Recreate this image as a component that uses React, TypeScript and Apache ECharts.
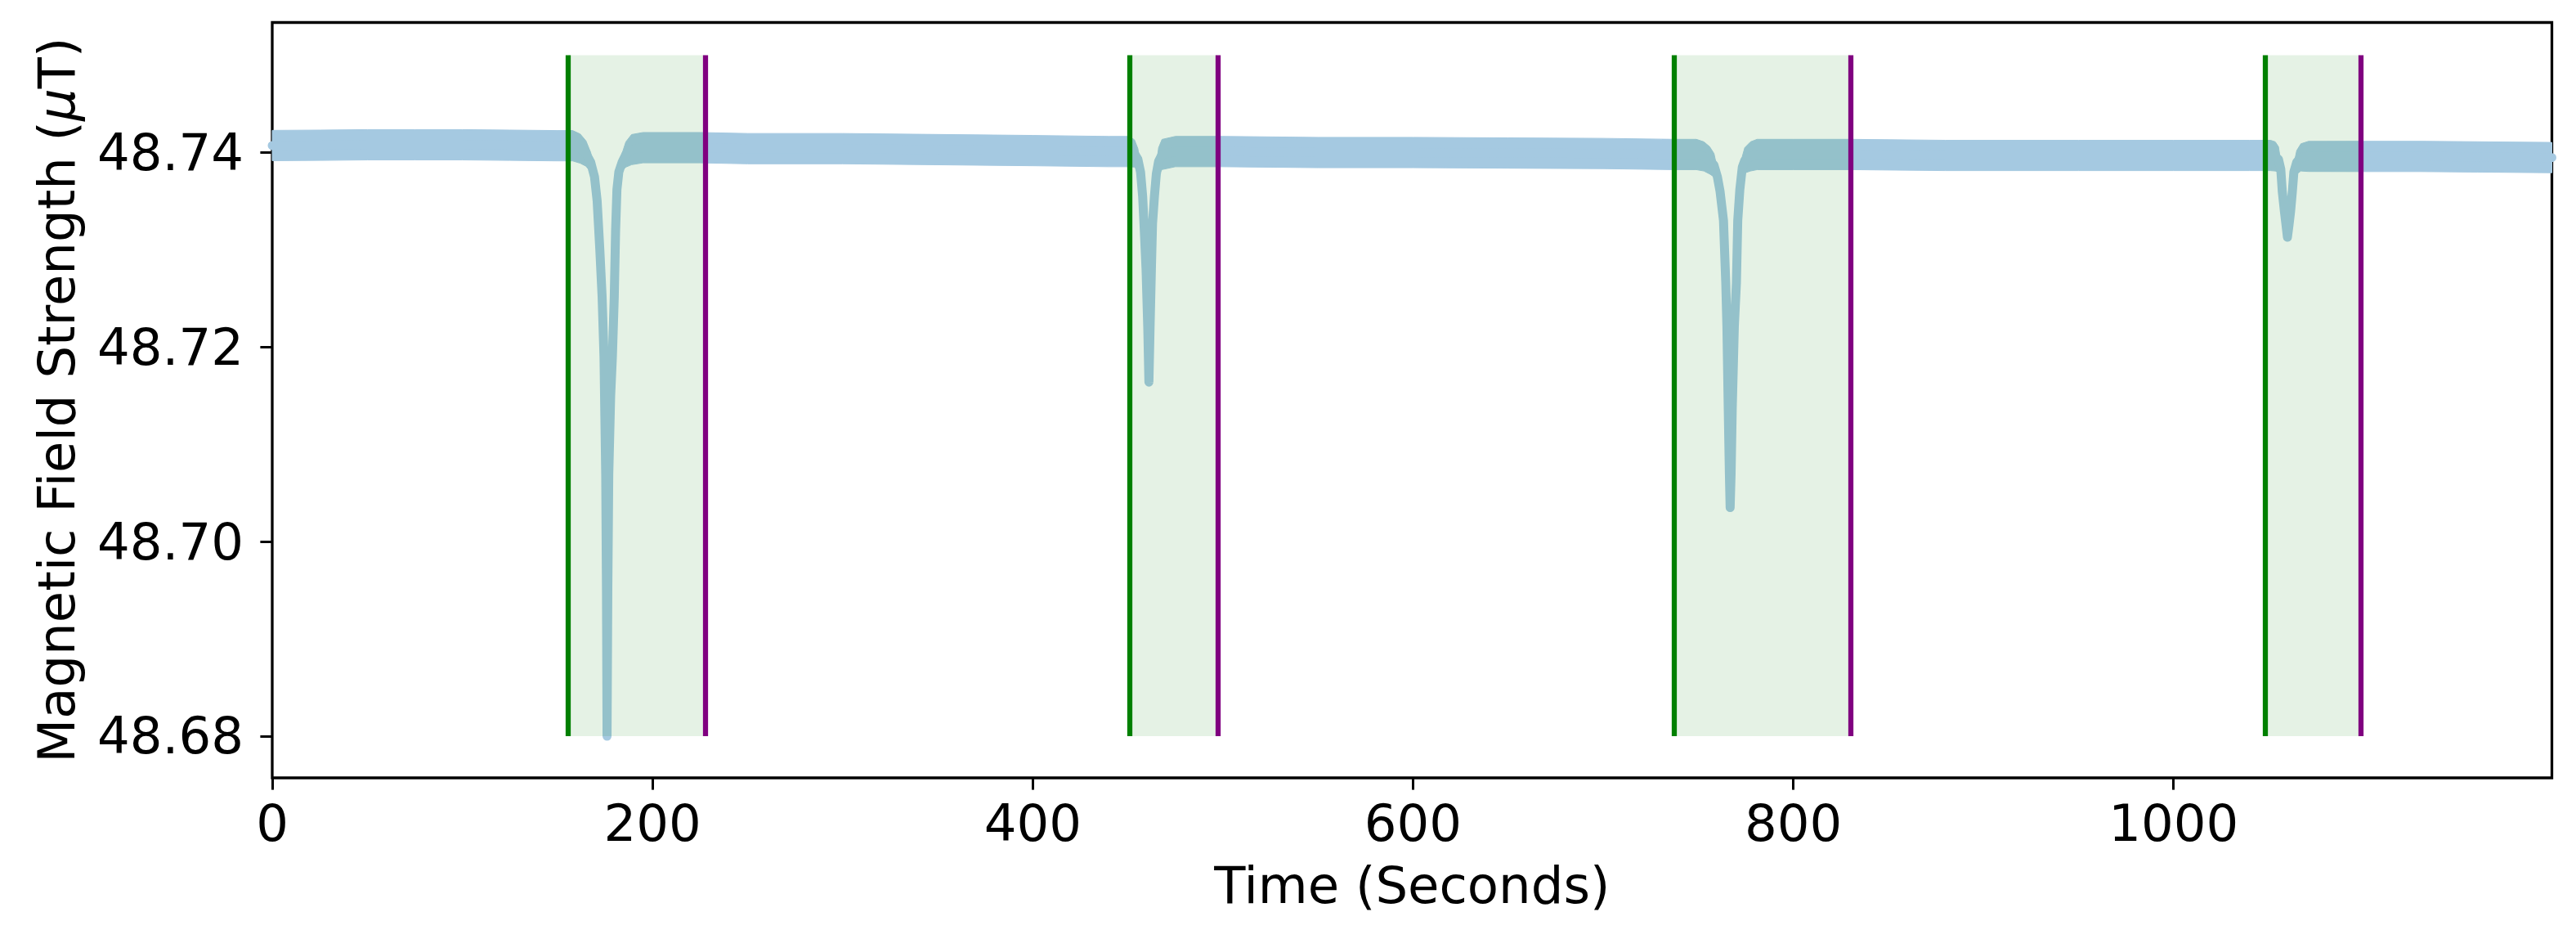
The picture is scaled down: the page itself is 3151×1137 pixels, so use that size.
import React, { useEffect, useRef } from "react";
import * as echarts from "echarts";

// ---- data ----
// time (s) of each sampled point of the magnetometer trace
const timeSec = [
  0, 25, 50, 75, 100, 125, 150, 158,
  162, 165, 167.5, 169.5, 170.9, 172.3, 173.5, 174.5, 175.4, 175.8, 176.1, 176.5, 177.0, 178.0, 178.9, 179.9, 180.6, 181.3, 182.3, 184, 186, 189, 195,
  225, 250, 300, 350, 400, 440, 451,
  453.5, 455.3, 456.7, 457.8, 458.5, 459.6, 460.5, 461.1, 461.7, 462.4, 463.0, 464.0, 465.0, 466.2, 468, 475,
  500, 550, 600, 650, 700, 737, 749,
  753, 756, 758.3, 760.1, 761.5, 763.3, 764.5, 765.1, 765.8, 766.4, 766.8, 767.3, 767.9, 769.0, 770.1, 770.8, 771.9, 773.2, 774.5, 777.5, 781,
  800, 830, 880, 950, 1000, 1040, 1051,
  1053.5, 1055.2, 1056.4, 1057.2, 1058.3, 1059.2, 1059.9, 1060.7, 1061.6, 1062.5, 1063.3, 1064.8, 1067, 1071,
  1100, 1130, 1160, 1199,
];

// mean field strength (µT) at each sampled time
const fieldCenter = [
  48.74072, 48.74075, 48.7408, 48.7408, 48.7408, 48.74075, 48.7407, 48.7407,
  48.7404, 48.7399, 48.739, 48.7375, 48.735, 48.73, 48.7252, 48.719, 48.7069, 48.695, 48.68, 48.695, 48.7069, 48.715, 48.719, 48.7252, 48.732, 48.7362, 48.738, 48.739, 48.7398, 48.7403, 48.7405,
  48.7405, 48.7404, 48.7404, 48.7403, 48.7402, 48.7401, 48.7401,
  48.7399, 48.7393, 48.738, 48.7355, 48.7327, 48.728, 48.722, 48.7164, 48.722, 48.728, 48.7327, 48.7355, 48.7378, 48.7391, 48.7398, 48.7401,
  48.7401, 48.74, 48.74, 48.73995, 48.7399, 48.7398, 48.7398,
  48.7396, 48.7392, 48.7387, 48.7375, 48.736, 48.733, 48.7266, 48.7221, 48.7137, 48.707, 48.7035, 48.707, 48.7137, 48.7221, 48.7266, 48.733, 48.7362, 48.7385, 48.7392, 48.7396, 48.7398,
  48.7398, 48.7398, 48.7397, 48.7397, 48.7397, 48.7397, 48.7397,
  48.7396, 48.7393, 48.7383, 48.736, 48.734, 48.7325, 48.7313, 48.7325, 48.734, 48.736, 48.738, 48.739, 48.7395, 48.7396,
  48.7396, 48.7396, 48.73955, 48.73948,
];

// half thickness of the noise band (µT) at each sampled time
const noiseHalf = [
  0.00156, 0.00156, 0.00156, 0.00156, 0.00156, 0.00156, 0.00156, 0.00156,
  0.0015, 0.0013, 0.001, 0.0006, 0.0003, 0.0002, 0.0002, 0.0002, 0.0001, 0.0001, 0, 0.0001, 0.0001, 0.0002, 0.0002, 0.0002, 0.0003, 0.0004, 0.0006, 0.0009, 0.0013, 0.00155, 0.00156,
  0.00156, 0.00156, 0.00156, 0.00156, 0.00156, 0.00156, 0.00156,
  0.0014, 0.0011, 0.0006, 0.0003, 0.0002, 0.0002, 0.0001, 0, 0.0001, 0.0002, 0.0002, 0.0004, 0.0009, 0.0014, 0.00155, 0.00156,
  0.00156, 0.00156, 0.00156, 0.00156, 0.00156, 0.00156, 0.00156,
  0.0015, 0.0014, 0.0012, 0.0008, 0.0004, 0.0003, 0.0002, 0.0002, 0.0001, 0.0001, 0, 0.0001, 0.0001, 0.0002, 0.0002, 0.0003, 0.0004, 0.0011, 0.0013, 0.0015, 0.00156,
  0.00156, 0.00156, 0.00156, 0.00156, 0.00156, 0.00156, 0.00156,
  0.0015, 0.0013, 0.0008, 0.0004, 0.0002, 0.0001, 0, 0.0001, 0.0002, 0.0004, 0.0008, 0.0012, 0.0014, 0.00155,
  0.00156, 0.00156, 0.00156, 0.00156,
];

// event windows (start = green line, end = purple line)
const windowStart = [155.6, 450.8, 737.1, 1048.0];
const windowEnd = [227.8, 497.2, 830.0, 1098.3];
const windowLow = 48.68;
const windowHigh = 48.75;

const xTickValues = [0, 200, 400, 600, 800, 1000];
const yTickValues = [48.68, 48.7, 48.72, 48.74];

const X_MIN = 0;
const X_MAX = 1199;
const Y_MIN = 48.67571;
const Y_MAX = 48.75337;

const TRACE = "#a5c9e1";
const FONT = "DejaVu Sans";
const FS = 62.5;

export default function App() {
  const ref = useRef<HTMLDivElement>(null);

  useEffect(() => {
    if (!ref.current) return;
    const chart = echarts.init(ref.current, undefined, { renderer: "svg" });

    const bandData = timeSec.map((t, i) => [
      t,
      fieldCenter[i] + noiseHalf[i],
      fieldCenter[i] - noiseHalf[i],
    ]);
    const lineData = timeSec.map((t, i) => [t, fieldCenter[i]]);

    const areaData = windowStart.map((s, i) => [
      { coord: [s, windowLow] },
      { coord: [windowEnd[i], windowHigh] },
    ]);
    const lineMarks: any[] = [];
    windowStart.forEach((s, i) => {
      lineMarks.push([
        { coord: [s, windowLow], lineStyle: { color: "#008000" } },
        { coord: [s, windowHigh] },
      ]);
      lineMarks.push([
        { coord: [windowEnd[i], windowLow], lineStyle: { color: "#800080" } },
        { coord: [windowEnd[i], windowHigh] },
      ]);
    });

    const option: any = {
      animation: false,
      backgroundColor: "#ffffff",
      grid: {
        left: 333,
        right: 29.5,
        top: 27.5,
        bottom: 186,
        show: true,
        borderColor: "#000000",
        borderWidth: 3.3,
        backgroundColor: "transparent",
      },
      xAxis: {
        type: "value",
        min: X_MIN,
        max: X_MAX,
        name: "Time (Seconds)",
        nameLocation: "middle",
        nameGap: 100,
        nameTextStyle: { fontFamily: FONT, fontSize: FS, color: "#000" },
        axisLine: { show: false },
        splitLine: { show: false },
        axisTick: {
          show: true,
          inside: false,
          length: 14.6,
          lineStyle: { color: "#000", width: 3 },
          customValues: xTickValues,
        },
        axisLabel: {
          show: true,
          margin: 24,
          fontFamily: FONT,
          fontSize: FS,
          color: "#000",
          customValues: xTickValues,
          formatter: (v: number) => String(Math.round(v)),
        },
      },
      yAxis: {
        type: "value",
        min: Y_MIN,
        max: Y_MAX,
        name: "Magnetic Field Strength ({it|μ}T)",
        nameLocation: "middle",
        nameGap: 232,
        nameRotate: 90,
        nameTextStyle: {
          fontFamily: FONT,
          fontSize: FS,
          color: "#000",
          rich: {
            it: { fontFamily: FONT, fontStyle: "italic", fontSize: FS, color: "#000" },
          },
        },
        axisLine: { show: false },
        splitLine: { show: false },
        axisTick: {
          show: true,
          inside: false,
          length: 14.6,
          lineStyle: { color: "#000", width: 3 },
          customValues: yTickValues,
        },
        axisLabel: {
          show: true,
          margin: 35,
          fontFamily: FONT,
          fontSize: FS,
          color: "#000",
          customValues: yTickValues,
          formatter: (v: number) => v.toFixed(2),
        },
      },
      series: [
        {
          type: "custom",
          name: "noise band",
          z: 2,
          silent: true,
          data: bandData,
          encode: { x: 0, y: [1, 2] },
          renderItem: (params: any, api: any) => {
            if (params.dataIndex !== 0) return null;
            const pts: number[][] = [];
            for (let i = 0; i < bandData.length; i++) {
              pts.push(api.coord([bandData[i][0], bandData[i][1]]));
            }
            for (let i = bandData.length - 1; i >= 0; i--) {
              pts.push(api.coord([bandData[i][0], bandData[i][2]]));
            }
            return {
              type: "polygon",
              shape: { points: pts },
              style: { fill: TRACE, stroke: TRACE, lineWidth: 1 },
            };
          },
        },
        {
          type: "line",
          name: "field",
          z: 3,
          silent: true,
          showSymbol: false,
          symbol: "none",
          data: lineData,
          lineStyle: { color: TRACE, width: 11, cap: "round", join: "round" },
          markArea: {
            silent: true,
            z: 10,
            itemStyle: { color: "rgba(0,128,0,0.1)", borderWidth: 0 },
            label: { show: false },
            data: areaData,
          },
          markLine: {
            silent: true,
            z: 11,
            symbol: ["none", "none"],
            label: { show: false },
            lineStyle: { width: 6.25, type: "solid" },
            data: lineMarks,
          },
        },
      ],
    };

    chart.setOption(option);
    return () => chart.dispose();
  }, []);

  return (
    <div
      ref={ref}
      style={{
        position: "fixed",
        left: 0,
        top: 0,
        width: 3151,
        height: 1137,
        background: "#ffffff",
      }}
    />
  );
}
